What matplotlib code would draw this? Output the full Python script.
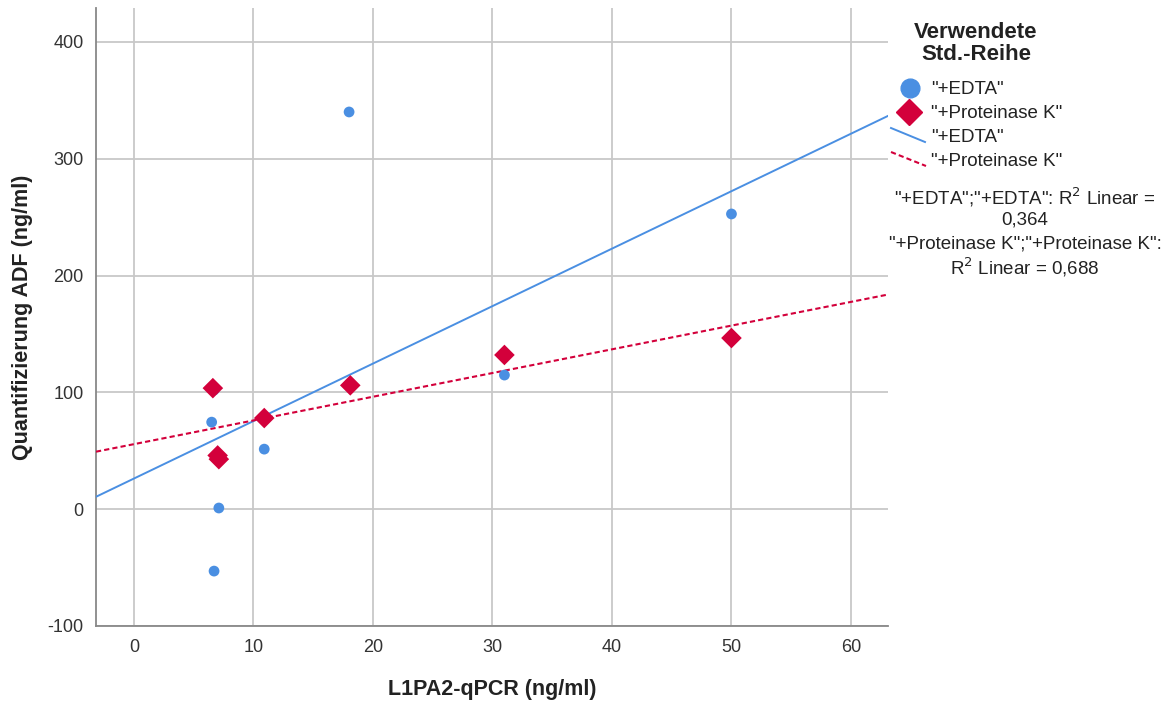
import numpy as np
import matplotlib
matplotlib.use("Agg")
import matplotlib.pyplot as plt
from matplotlib.lines import Line2D

plt.rcParams['font.family'] = ['Liberation Sans', 'DejaVu Sans']
plt.rcParams['axes.unicode_minus'] = False

# L1PA2-qPCR (x) vs. ADF quantification (y) per standard series
edta_x = [6.7, 6.5, 7.1, 6.7, 10.9, 18.0, 31.0, 50.0]
edta_y = [102, 74.5, 1, -53, 51.4, 340, 114.8, 252.7]
pk_x = [6.6, 7.0, 7.1, 10.9, 18.1, 31.0, 50.0]
pk_y = [103.6, 46, 42.8, 78, 106, 132, 146.5]

series_labels = ['"+EDTA"', '"+Proteinase K"']
r2_edta = "0,364"
r2_pk = "0,688"

x_ticks = [0, 10, 20, 30, 40, 50, 60]
y_ticks = [-100, 0, 100, 200, 300, 400]

blue = "#4A8FE2"
red = "#D3003B"
grid_c = "#C8C8C8"
txt_c = "#222222"

W, H = 1169, 704
fig = plt.figure(figsize=(W / 100, H / 100), dpi=100)
ax = fig.add_axes([96 / W, (H - 626) / H, (888 - 96) / W, (626 - 8) / H])

xlim = (-3.18, 63.1)
ylim = (-100, 429)
ax.set_xlim(*xlim)
ax.set_ylim(*ylim)

ax.set_xticks(x_ticks)
ax.set_yticks(y_ticks)
ax.grid(True, color=grid_c, linewidth=1.3)
ax.set_axisbelow(True)
for s in ("top", "right"):
    ax.spines[s].set_visible(False)
for s in ("left", "bottom"):
    ax.spines[s].set_color("#888888")
    ax.spines[s].set_linewidth(1.3)
ax.tick_params(length=0, labelsize=13, colors="#333333", pad=9)

# Linear fits over the full x range
xs = np.array(xlim)
b1, a1 = np.polyfit(edta_x, edta_y, 1)
b2, a2 = np.polyfit(pk_x, pk_y, 1)
ax.plot(xs, a1 + b1 * xs, color=blue, linewidth=1.4, zorder=3)
ax.plot(xs, a2 + b2 * xs, color=red, linewidth=1.5, linestyle=(0, (2.5, 1.5)), zorder=3)

ax.scatter(edta_x, edta_y, s=60, color=blue, edgecolors="none", zorder=4)
ax.scatter(pk_x, pk_y, s=110, marker="D", color=red, edgecolors="none", zorder=5)

ax.set_xlabel("L1PA2-qPCR (ng/ml)", fontsize=15.5, fontweight="bold", color=txt_c)
ax.xaxis.set_label_coords(0.5, -(689 - 626) / (626 - 8), transform=ax.transAxes)
ax.xaxis.label.set_va("center")
ax.set_ylabel("Quantifizierung ADF (ng/ml)", fontsize=15.5, fontweight="bold", color=txt_c)
ax.yaxis.set_label_coords(-(96 - 23) / (888 - 96), 0.5, transform=ax.transAxes)
ax.yaxis.label.set_va("center")

# Legend panel drawn in pixel coordinates
lg = fig.add_axes([0, 0, 1, 1], facecolor="none")
lg.set_xlim(0, W)
lg.set_ylim(H, 0)
lg.axis("off")

lg.text(976, 33, "Verwendete", ha="center", va="center", fontsize=16, fontweight="bold", color=txt_c)
lg.text(976, 55, "Std.-Reihe", ha="center", va="center", fontsize=16, fontweight="bold", color=txt_c)
lg.plot([910], [88], marker="o", markersize=13.5, color=blue, linestyle="none")
lg.plot([909], [112], marker="D", markersize=13.5, color=red, linestyle="none")
lg.add_line(Line2D([891, 925], [128, 142], color=blue, linewidth=1.4))
lg.add_line(Line2D([891, 926], [152, 166], color=red, linewidth=1.5,
                   linestyle=(0, (2.5, 1.5))))
for yy, lab in zip([90, 113, 137, 161], series_labels * 2):
    lg.text(931, yy, lab, ha="left", va="center", fontsize=13.5, color=txt_c)

r2_lines = [
    '"+EDTA";"+EDTA": R$^2$ Linear =',
    r2_edta,
    '"+Proteinase K";"+Proteinase K":',
    "R$^2$ Linear = " + r2_pk,
]
for yy, t in zip([197, 220, 244, 267], r2_lines):
    lg.text(1025, yy, t, ha="center", va="center", fontsize=13.5, color=txt_c)

fig.savefig("out.png", dpi=100)
